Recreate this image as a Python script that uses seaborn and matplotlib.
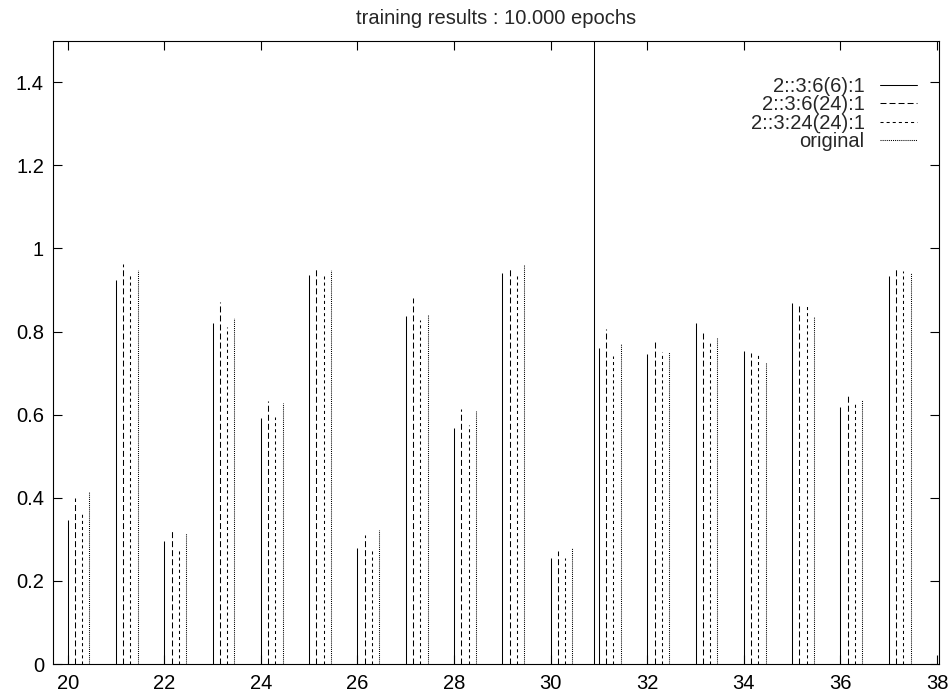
import matplotlib
matplotlib.use("Agg")
import matplotlib.pyplot as plt
import seaborn as sns
import numpy as np
import pandas as pd

# values
patterns = np.arange(20, 38)
net_6_6 = [0.346, 0.924, 0.296, 0.820, 0.591, 0.936, 0.279, 0.837, 0.567,
           0.940, 0.256, 0.760, 0.746, 0.820, 0.754, 0.869, 0.618, 0.933]
net_6_24 = [0.399, 0.962, 0.324, 0.870, 0.634, 0.950, 0.310, 0.881, 0.613,
            0.955, 0.271, 0.805, 0.780, 0.802, 0.749, 0.862, 0.646, 0.954]
net_24_24 = [0.363, 0.936, 0.274, 0.810, 0.595, 0.934, 0.275, 0.828, 0.575,
             0.934, 0.255, 0.740, 0.750, 0.773, 0.749, 0.862, 0.626, 0.946]
original = [0.414, 0.948, 0.315, 0.833, 0.627, 0.948, 0.322, 0.840, 0.608,
            0.963, 0.279, 0.771, 0.752, 0.788, 0.727, 0.834, 0.636, 0.940]
series_names = ["2::3:6(6):1", "2::3:6(24):1", "2::3:24(24):1", "original"]
separator_x = 30.9

df = pd.DataFrame({
    "pattern": patterns,
    series_names[0]: net_6_6,
    series_names[1]: net_6_24,
    series_names[2]: net_24_24,
    series_names[3]: original,
})

sns.set_theme(style="ticks")
plt.rcParams["font.family"] = ["Liberation Sans", "DejaVu Sans"]
plt.rcParams["lines.scale_dashes"] = False

fig = plt.figure(figsize=(9.51, 6.94), dpi=100)
ax = fig.add_axes([0.0557, 0.0432, 0.9317, 0.8982])

styles = ["-", (0, (4.3, 2.2)), (0, (2.2, 2.2)), (0, (0.75, 0.75))]
offsets = [0.0, 0.15, 0.3, 0.45]
handles = []
for name, ls, off in zip(series_names, styles, offsets):
    ax.vlines(df["pattern"] + off, 0, df[name], colors="black",
              linestyles=[ls], linewidth=0.75)
    h, = ax.plot([], [], color="black", linestyle=ls, linewidth=0.75)
    handles.append(h)

ax.axvline(separator_x, color="black", linewidth=0.75)

ax.set_xlim(19.696, 38.04)
ax.set_ylim(0, 1.5)
ax.set_xticks(np.arange(20, 39, 2))
ax.set_yticks(np.arange(0, 1.41, 0.2))
ax.yaxis.set_major_formatter(matplotlib.ticker.FormatStrFormatter("%g"))
ax.tick_params(direction="in", length=6.5, width=0.8, top=True, right=True,
               labelsize=14.5, colors="black")
ax.tick_params(axis="x", pad=7.3)
ax.tick_params(axis="y", pad=6.5)
for sp in ax.spines.values():
    sp.set_linewidth(0.8)
    sp.set_color("black")

ax.legend(handles, series_names, loc="upper right", frameon=False,
          markerfirst=False, fontsize=14.5, handlelength=1.84,
          labelspacing=-0.03, handletextpad=0.75, borderpad=0,
          borderaxespad=0, bbox_to_anchor=(0.975, 0.942))

ax.set_title("training results : 10.000 epochs", fontsize=14.5, pad=12)

fig.savefig("out.png", dpi=100)
